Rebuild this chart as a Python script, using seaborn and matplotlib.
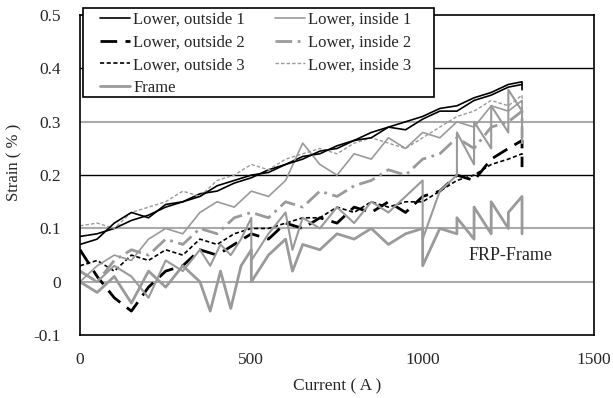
import numpy as np
import pandas as pd
import matplotlib
matplotlib.use('Agg')
import matplotlib.pyplot as plt
from matplotlib.patches import Rectangle
import seaborn as sns

# Current steps (A) shared by the lower gauges, last step repeated (unloading)
current = [0, 50, 100, 150, 200, 250, 300, 350, 400, 450, 500, 550, 600, 650,
           700, 750, 800, 850, 900, 950, 1000, 1050, 1100, 1150, 1200, 1250,
           1290, 1290]

outside1 = [0.085, 0.09, 0.10, 0.115, 0.125, 0.14, 0.15, 0.165, 0.17, 0.185,
            0.195, 0.21, 0.22, 0.235, 0.24, 0.255, 0.265, 0.28, 0.29, 0.30,
            0.31, 0.325, 0.33, 0.345, 0.355, 0.37, 0.375, 0.37]
outside1_b = [0.07, 0.08, 0.11, 0.13, 0.12, 0.145, 0.15, 0.16, 0.18, 0.19,
              0.20, 0.205, 0.22, 0.23, 0.245, 0.25, 0.265, 0.27, 0.29, 0.285,
              0.305, 0.32, 0.32, 0.34, 0.35, 0.365, 0.37, 0.36]
outside2 = [0.06, 0.01, -0.03, -0.055, -0.01, 0.02, 0.03, 0.06, 0.05, 0.07,
            0.09, 0.08, 0.11, 0.10, 0.12, 0.11, 0.14, 0.13, 0.15, 0.13, 0.16,
            0.17, 0.20, 0.19, 0.23, 0.25, 0.265, 0.215]
outside3 = [0.03, 0.04, 0.02, 0.05, 0.04, 0.06, 0.05, 0.08, 0.07, 0.09, 0.10,
            0.10, 0.11, 0.12, 0.12, 0.14, 0.13, 0.15, 0.14, 0.15, 0.15, 0.17,
            0.19, 0.20, 0.22, 0.23, 0.24, 0.22]
inside1 = [0.0, 0.03, 0.05, 0.04, 0.08, 0.10, 0.09, 0.13, 0.15, 0.14, 0.17,
           0.16, 0.19, 0.26, 0.22, 0.20, 0.24, 0.23, 0.27, 0.25, 0.28, 0.27,
           0.30, 0.29, 0.33, 0.32, 0.34, 0.30]
inside2 = [0.02, 0.0, 0.04, 0.06, 0.05, 0.08, 0.07, 0.10, 0.09, 0.12, 0.13,
           0.12, 0.15, 0.14, 0.17, 0.16, 0.18, 0.19, 0.21, 0.20, 0.23, 0.24,
           0.27, 0.25, 0.29, 0.30, 0.32, 0.27]
inside3 = [0.105, 0.11, 0.10, 0.13, 0.14, 0.15, 0.17, 0.16, 0.19, 0.20, 0.22,
           0.21, 0.23, 0.24, 0.25, 0.24, 0.26, 0.27, 0.26, 0.25, 0.27, 0.29,
           0.31, 0.32, 0.34, 0.33, 0.35, 0.31]

# Frame gauges, with repeated steps
frame_current = [0, 50, 100, 150, 200, 250, 300, 350, 380, 410, 440, 470, 500,
                 500, 550, 600, 620, 650, 700, 750, 800, 850, 900, 950, 1000,
                 1000, 1050, 1100, 1100, 1150, 1150, 1200, 1200, 1250, 1250,
                 1290, 1290]
frame = [0.0, -0.02, 0.01, -0.04, 0.02, -0.01, 0.03, 0.0, -0.055, 0.02, -0.05,
         0.03, 0.06, 0.0, 0.05, 0.08, 0.02, 0.07, 0.06, 0.09, 0.08, 0.10, 0.07,
         0.09, 0.10, 0.03, 0.10, 0.09, 0.12, 0.08, 0.14, 0.09, 0.15, 0.10, 0.13,
         0.16, 0.09]
frame_b = [0.02, 0.0, 0.03, 0.01, -0.03, 0.04, 0.02, 0.06, 0.03, 0.07, 0.05,
           0.08, 0.12, 0.04, 0.09, 0.13, 0.06, 0.12, 0.10, 0.14, 0.11, 0.15,
           0.13, 0.16, 0.19, 0.08, 0.17, 0.20, 0.28, 0.22, 0.30, 0.25, 0.33,
           0.28, 0.36, 0.32, 0.26]

sns.set_style('white')
plt.rcParams['font.family'] = ['Liberation Serif', 'DejaVu Serif']
plt.rcParams['font.size'] = 12.5

fig = plt.figure(figsize=(6.13, 3.98), dpi=100)
ax = fig.add_axes([0.1305, 0.158, 0.8385, 0.804])

GRAY = '#9a9a9a'

# Horizontal grid: alternating black and gray
for yv, c, lw in [(0.4, 'black', 1.0), (0.3, '#aaaaaa', 1.5), (0.2, 'black', 1.0),
                  (0.1, '#aaaaaa', 1.5), (0.0, '#aaaaaa', 1.5)]:
    ax.axhline(yv, color=c, lw=lw, zorder=0)

series = [
    (current, outside1, 'Lower, outside 1', 'black', 1.2, (None, None)),
    (current, outside2, 'Lower, outside 2', 'black', 2.0, (6, 3)),
    (current, outside3, 'Lower, outside 3', 'black', 1.2, (2.5, 1.5)),
    (frame_current, frame, 'Frame', GRAY, 2.0, (None, None)),
    (current, inside1, 'Lower, inside 1', GRAY, 1.2, (None, None)),
    (current, inside2, 'Lower, inside 2', GRAY, 2.0, (6, 2, 1, 2)),
    (current, inside3, 'Lower, inside 3', GRAY, 1.0, (2.5, 1.5)),
]

for xs, ys, lab, col, lw, dash in series:
    df = pd.DataFrame({'x': xs, 'y': ys})
    sns.lineplot(data=df, x='x', y='y', sort=False, estimator=None, color=col,
                 lw=lw, ax=ax, label=lab)
    if dash[0] is not None:
        ax.lines[-1].set_dashes(dash)

# extra gauges without legend entries
sns.lineplot(x=current, y=outside1_b, sort=False, estimator=None, color='black',
             lw=1.2, ax=ax)
sns.lineplot(x=frame_current, y=frame_b, sort=False, estimator=None, color=GRAY,
             lw=1.5, ax=ax)

ax.set_xlim(0, 1500)
ax.set_ylim(-0.1, 0.5)
ax.set_xticks([0, 500, 1000, 1500])
ax.set_yticks([-0.1, 0, 0.1, 0.2, 0.3, 0.4, 0.5])
ax.set_yticklabels(['-0.1', '0', '0.1', '0.2', '0.3', '0.4', '0.5'])
ax.tick_params(axis='x', direction='in', length=4, pad=12, labelsize=12.5)
ax.tick_params(axis='y', direction='in', length=0, pad=14, labelsize=12.5)
for sp in ax.spines.values():
    sp.set_color('black')
    sp.set_linewidth(1.2)

ax.set_xlabel('Current ( A )', fontsize=12.5)
ax.set_ylabel('Strain ( % )', fontsize=12)
ax.xaxis.set_label_coords(0.5, -0.135)
ax.yaxis.set_label_coords(-0.112, 0.54)

ax.text(1255, 0.05, 'FRP-Frame', ha='center', va='center', fontsize=13)

# legend: fixed box like the spreadsheet chart
fig.patches.append(Rectangle((83 / 613, 1 - 97 / 398), 351 / 613, 89 / 398,
                             transform=fig.transFigure, facecolor='white',
                             edgecolor='black', lw=1.2, zorder=4))
handles, labels = ax.get_legend_handles_labels()
ax.get_legend().remove()
leg = fig.legend(handles, labels, ncol=2, loc='upper left',
                 bbox_to_anchor=(100 / 613, 1 - 12 / 398), borderaxespad=0,
                 borderpad=0, frameon=False, fontsize=12,
                 handlelength=1.8, handletextpad=0.2, columnspacing=1.8,
                 labelspacing=0.4)
leg.set_zorder(5)

fig.savefig('out.png', dpi=100)
